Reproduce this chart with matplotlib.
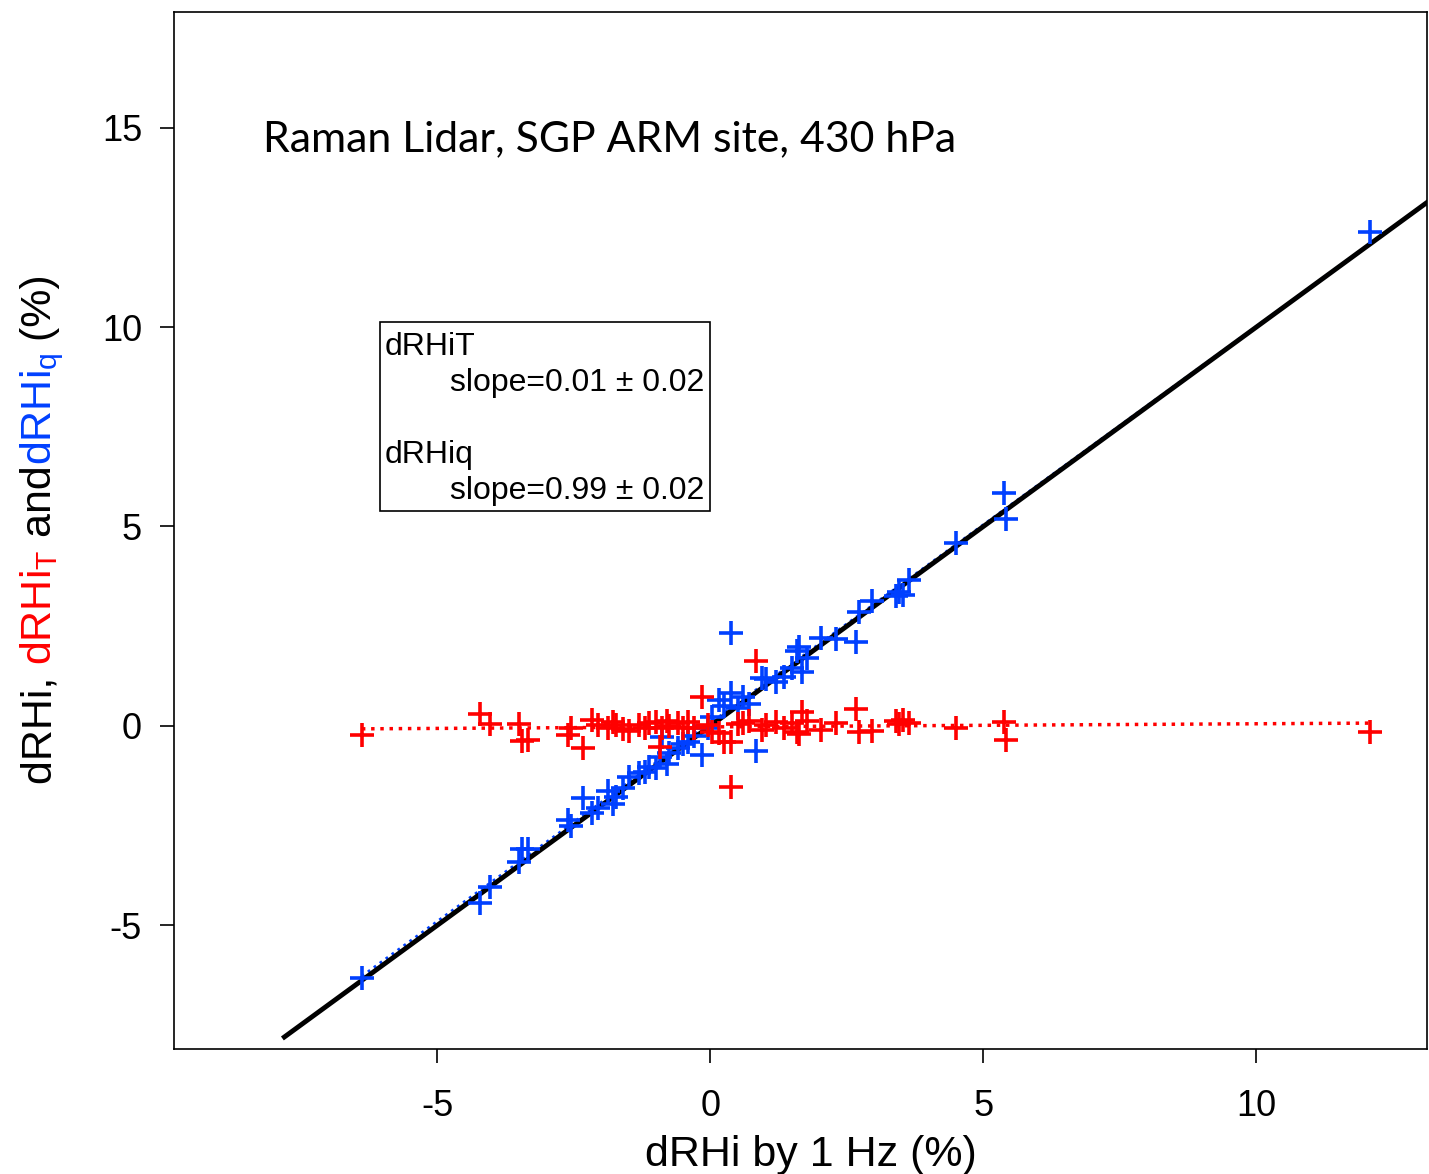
import numpy as np
import matplotlib.pyplot as plt
from matplotlib.patches import Rectangle

plt.rcParams['font.family'] = ['Liberation Sans', 'DejaVu Sans']
plt.rcParams['axes.unicode_minus'] = False

# dRHi by 1 Hz (x), dRHi_q (blue), dRHi_T (red)
drhi = [-6.38, -4.22, -4.04, -3.50, -3.45, -3.33, -2.60, -2.55, -2.34, -2.16,
        -2.05, -1.88, -1.78, -1.72, -1.60, -1.48, -1.30, -1.20, -1.12, -1.00,
        -0.93, -0.88, -0.80, -0.75, -0.60, -0.50, -0.40, -0.30, -0.15, -0.05,
        0.04, 0.16, 0.25, 0.38, 0.38, 0.50, 0.59, 0.70, 0.84, 0.95,
        1.02, 1.20, 1.35, 1.50, 1.58, 1.63, 1.68, 1.77, 2.02, 2.30,
        2.66, 2.72, 2.96, 3.40, 3.45, 3.52, 3.64, 4.50, 5.37, 5.42, 12.08]
drhi_q = [-6.32, -4.45, -4.05, -3.42, -3.08, -3.08, -2.35, -2.50, -1.80, -2.18,
          -2.05, -1.62, -1.95, -1.78, -1.55, -1.28, -1.18, -1.15, -1.03, -1.05,
          -0.78, -0.28, -0.95, -0.68, -0.55, -0.45, -0.40, -0.25, -0.73, -0.05,
          0.23, 0.65, 0.50, 2.32, 0.83, 0.45, 0.73, 0.55, -0.64, 1.20,
          1.18, 1.10, 1.22, 1.45, 1.88, 1.99, 1.36, 1.70, 2.20, 2.18,
          2.11, 2.86, 3.12, 3.25, 3.35, 3.28, 3.66, 4.58, 5.84, 5.20, 12.39]
drhi_t = [-0.22, 0.30, 0.06, 0.05, -0.38, -0.35, -0.22, -0.05, -0.55, 0.15,
          0.02, -0.05, 0.10, 0.02, -0.08, -0.12, 0.03, -0.05, 0.08, 0.10,
          -0.53, -0.05, 0.12, 0.00, 0.08, -0.05, 0.10, -0.05, 0.73, 0.02,
          -0.15, -0.18, -0.40, -1.52, -0.40, 0.05, 0.07, 0.12, 1.62, -0.10,
          0.02, 0.10, -0.05, 0.08, -0.15, -0.20, 0.35, 0.12, -0.10, 0.07,
          0.42, -0.15, -0.12, 0.12, 0.05, 0.15, 0.08, -0.05, 0.10, -0.35, -0.15]

one_to_one = [-7.8, 14.0]

x = np.array(drhi)
xfit = np.array([x.min(), x.max()])
pq = np.polyfit(x, drhi_q, 1)
pt = np.polyfit(x, drhi_t, 1)

blue = '#0040ff'
red = '#ff0000'

fig = plt.figure(figsize=(14.29, 11.74), dpi=100)
ax = fig.add_axes([0.1218, 0.1065, 0.877, 0.8833])

ax.plot(xfit, np.polyval(pq, xfit), color=blue, ls=':', lw=2)
ax.plot(xfit, np.polyval(pt, xfit), color=red, ls=':', lw=2.5)
ax.plot(one_to_one, one_to_one, color='black', lw=3.5)
ax.plot(drhi, drhi_q, ls='none', marker='+', ms=17, mew=2.6, color=blue)
ax.plot(drhi, drhi_t, ls='none', marker='+', ms=17, mew=2.6, color=red)

ax.set_xlim(-9.82, 13.13)
ax.set_ylim(-8.1, 17.9)
ax.set_xticks([-5, 0, 5, 10])
ax.set_yticks([-5, 0, 5, 10, 15])
ax.tick_params(direction='out', length=10, width=1.2, labelsize=26)
ax.tick_params(axis='x', pad=19)
ax.tick_params(axis='y', pad=13)
for s in ax.spines.values():
    s.set_linewidth(1.2)

ax.set_xlabel('dRHi by 1 Hz (%)', fontsize=31, labelpad=6)
ax.xaxis.set_label_coords(0.508, -0.083)

ax.text(0.071, 0.877, 'Raman Lidar, SGP ARM site, 430 hPa', transform=ax.transAxes,
        fontsize=30.8, family=['Lato', 'DejaVu Sans'], va='center', ha='left')

# legend box
ax.add_patch(Rectangle((0.164, 0.519), 0.264, 0.182, transform=ax.transAxes,
                       fill=False, lw=1.2, ec='black'))
ax.text(0.168, 0.677, 'dRHiT', transform=ax.transAxes, fontsize=23, va='center')
ax.text(0.220, 0.642, 'slope=0.01 ± 0.02', transform=ax.transAxes, fontsize=23, va='center')
ax.text(0.168, 0.573, 'dRHiq', transform=ax.transAxes, fontsize=23, va='center')
ax.text(0.220, 0.538, 'slope=0.99 ± 0.02', transform=ax.transAxes, fontsize=23, va='center')

# multi-coloured y label, built piece by piece
pieces = [('dRHi, ', 'black'), (r'dRHi$_\mathregular{T}$', red), (' and', 'black'),
          (r'dRHi$_\mathregular{q}$', blue), (' (%)', 'black')]
fig.canvas.draw()
r = fig.canvas.get_renderer()
lab_x = 51 / 1429
texts = []
total = 0
for s, c in pieces:
    t = fig.text(lab_x, 0, s, color=c, fontsize=31, rotation=90,
                 rotation_mode='anchor', ha='left', va='baseline')
    texts.append(t)
    total += t.get_window_extent(r).height
fig_h = fig.bbox.height
y = (1174 - 529) / 1174 * fig_h - total / 2
for t in texts:
    t.set_position((lab_x, y / fig_h))
    y += t.get_window_extent(r).height

fig.savefig('out.png', dpi=100)
